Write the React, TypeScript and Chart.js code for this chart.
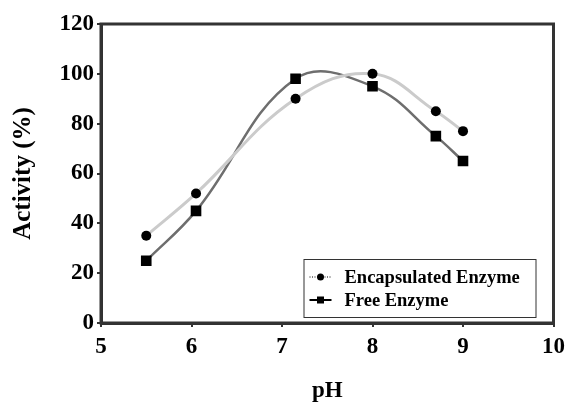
import React, { useEffect, useRef } from "react";
import { Chart, registerables } from "chart.js";

Chart.register(...registerables);

const phEncapsulated = [5.5, 6.05, 7.15, 8, 8.7, 9];
const activityEncapsulated = [35, 52, 90, 100, 85, 77];
const phFree = [5.5, 6.05, 7.15, 8, 8.7, 9];
const activityFree = [25, 45, 98, 95, 75, 65];
const xTicks = [5, 6, 7, 8, 9, 10];
const yTicks = [0, 20, 40, 60, 80, 100, 120];
const seriesNames = ["Encapsulated Enzyme", "Free Enzyme"];

const FONT = "'Liberation Serif', 'Times New Roman', serif";

const frameAndLegend = {
  id: "frameAndLegend",
  afterDraw(chart: any) {
    const { ctx, chartArea: a } = chart;
    ctx.save();
    // frame
    ctx.strokeStyle = "#333";
    ctx.lineWidth = 3;
    ctx.strokeRect(a.left, a.top, a.right - a.left, a.bottom - a.top);
    // legend
    const w = 232, h = 58;
    const bx = a.right - 18 - w;
    const by = a.bottom - 6 - h;
    ctx.fillStyle = "#fff";
    ctx.fillRect(bx, by, w, h);
    ctx.strokeStyle = "#333";
    ctx.lineWidth = 1;
    ctx.strokeRect(bx + 0.5, by + 0.5, w, h);
    const rows = [by + 18, by + 41];
    ctx.font = `bold 18.5px ${FONT}`;
    ctx.textBaseline = "middle";
    ctx.textAlign = "left";
    // row 1
    ctx.strokeStyle = "#000";
    ctx.lineWidth = 1;
    ctx.setLineDash([1, 1.5]);
    ctx.beginPath();
    ctx.moveTo(bx + 6, rows[0]);
    ctx.lineTo(bx + 28, rows[0]);
    ctx.stroke();
    ctx.setLineDash([]);
    ctx.fillStyle = "#000";
    ctx.beginPath();
    ctx.arc(bx + 17, rows[0], 3.5, 0, Math.PI * 2);
    ctx.fill();
    ctx.fillText(seriesNames[0], bx + 41, rows[0] + 1);
    // row 2
    ctx.lineWidth = 2;
    ctx.beginPath();
    ctx.moveTo(bx + 6, rows[1]);
    ctx.lineTo(bx + 28, rows[1]);
    ctx.stroke();
    ctx.fillRect(bx + 13.5, rows[1] - 3.5, 7, 7);
    ctx.fillText(seriesNames[1], bx + 41, rows[1] + 1);
    ctx.restore();
  },
};

export default function App() {
  const ref = useRef<HTMLCanvasElement>(null);
  useEffect(() => {
    if (!ref.current) return;
    const chart = new Chart(ref.current, {
      type: "line",
      data: {
        datasets: [
          {
            label: seriesNames[0],
            data: phEncapsulated.map((x, i) => ({ x, y: activityEncapsulated[i] })),
            borderColor: "#cbcbcb",
            borderWidth: 3,
            tension: 0.4,
            pointStyle: "circle",
            pointRadius: 5,
            pointBackgroundColor: "#000",
            pointBorderColor: "#000",
            pointBorderWidth: 0,
          },
          {
            label: seriesNames[1],
            data: phFree.map((x, i) => ({ x, y: activityFree[i] })),
            borderColor: "#6e6e6e",
            borderWidth: 2.5,
            tension: 0.4,
            pointStyle: "rect",
            pointRadius: 7.5,
            pointBackgroundColor: "#000",
            pointBorderColor: "#000",
            pointBorderWidth: 0,
          },
        ],
      },
      options: {
        responsive: false,
        animation: false,
        layout: { padding: { top: 24, right: 16, left: 0, bottom: 0 } },
        plugins: { legend: { display: false }, tooltip: { enabled: false } },
        scales: {
          x: {
            type: "linear",
            min: 5,
            max: 10,
            afterFit: (s: any) => { s.height = 82; },
            afterBuildTicks: (s: any) => { s.ticks = xTicks.map((v) => ({ value: v })); },
            grid: { drawOnChartArea: false, drawTicks: true, tickLength: 4, color: "#333", lineWidth: 2 },
            border: { display: true, color: "#333", width: 3 },
            ticks: {
              color: "#000",
              padding: 6,
              maxRotation: 0,
              font: { family: FONT, size: 23, weight: "bold" },
            },
            title: {
              display: true,
              text: "pH",
              color: "#000",
              padding: { top: 0, bottom: 0 },
              font: { family: FONT, size: 23, weight: "bold" },
            },
          },
          y: {
            min: 0,
            max: 120,
            afterFit: (s: any) => { s.width = 101; },
            afterBuildTicks: (s: any) => { s.ticks = yTicks.map((v) => ({ value: v })); },
            grid: { drawOnChartArea: false, drawTicks: true, tickLength: 4, color: "#333", lineWidth: 2 },
            border: { display: true, color: "#333", width: 3 },
            ticks: {
              color: "#000",
              padding: 3,
              font: { family: FONT, size: 23, weight: "bold" },
            },
            title: {
              display: true,
              text: "Activity (%)",
              color: "#000",
              padding: { top: 9, bottom: 0 },
              font: { family: FONT, size: 25, weight: "bold" },
            },
          },
        },
      },
      plugins: [frameAndLegend],
    });
    return () => chart.destroy();
  }, []);
  return (
    <div style={{ position: "fixed", left: 0, top: 0, width: 571, height: 405, background: "#fff" }}>
      <canvas ref={ref} width={571} height={405} style={{ width: 571, height: 405, display: "block" }} />
    </div>
  );
}
